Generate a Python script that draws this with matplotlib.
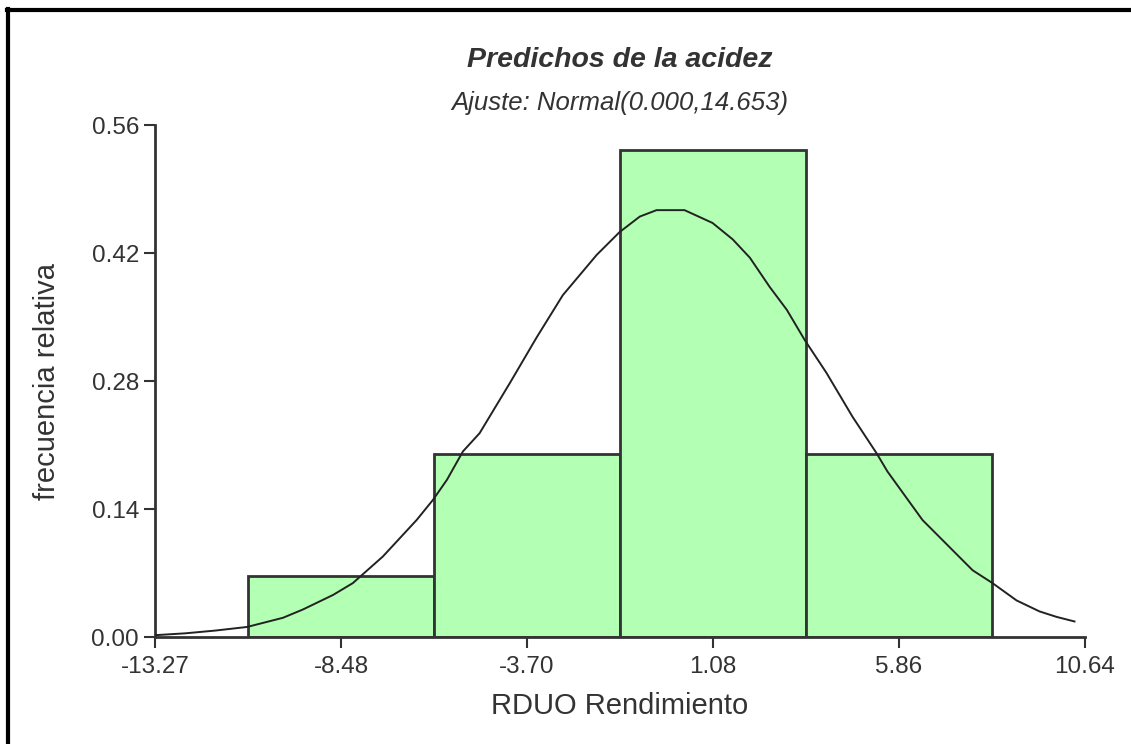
import matplotlib.pyplot as plt
from matplotlib.lines import Line2D

plt.rcParams['font.family'] = ['Liberation Sans', 'DejaVu Sans']

# histograma de residuos
centros = [-8.48, -3.70, 1.08, 5.86]
frec_rel = [0.067, 0.200, 0.533, 0.200]
ancho = 4.78

ticks_x = [-13.27, -8.48, -3.70, 1.08, 5.86, 10.64]
ticks_y = [0.00, 0.14, 0.28, 0.42, 0.56]

# curva de ajuste normal
curva_x = [-13.27, -12.50, -11.73, -10.90, -9.98, -9.47, -8.69, -8.18, -7.41,
           -6.54, -6.12, -5.76, -5.35, -4.92, -4.14, -3.45, -2.78, -1.91, -1.32,
           -0.80, -0.37, 0.35, 1.07, 1.59, 2.03, 2.54, 2.98, 3.44, 4.00, 4.67,
           5.29, 5.57, 6.47, 7.76, 8.27, 8.89, 9.48, 9.92, 10.38]
curva_y = [0.002, 0.004, 0.007, 0.011, 0.021, 0.030, 0.046, 0.059, 0.088,
           0.128, 0.150, 0.172, 0.203, 0.223, 0.278, 0.328, 0.374, 0.418, 0.443,
           0.460, 0.467, 0.467, 0.453, 0.435, 0.415, 0.383, 0.358, 0.325, 0.289, 0.241,
           0.201, 0.181, 0.128, 0.073, 0.059, 0.040, 0.028, 0.022, 0.017]

gris = '#333333'

fig = plt.figure(figsize=(11.31, 7.44), dpi=100)
ax = fig.add_axes([0.137, 0.1438, 0.822, 0.688])

ax.bar(centros, frec_rel, width=ancho, color='#b3ffb3', edgecolor=gris, linewidth=2, zorder=2)
ax.plot(curva_x, curva_y, color='#222222', linewidth=1.4, zorder=3)

ax.set_xlim(-13.27, 10.64)
ax.set_ylim(0, 0.56)
ax.set_xticks(ticks_x)
ax.set_xticklabels(['%.2f' % t for t in ticks_x])
ax.set_yticks(ticks_y)
ax.set_yticklabels(['%.2f' % t for t in ticks_y])
ax.spines['top'].set_visible(False)
ax.spines['right'].set_visible(False)
for s in ['left', 'bottom']:
    ax.spines[s].set_linewidth(2)
    ax.spines[s].set_color(gris)
ax.tick_params(axis='both', colors=gris, labelcolor=gris, labelsize=17.5, width=1.5, length=8)
ax.tick_params(axis='x', pad=6)
ax.margins(0)

ax.set_xlabel('RDUO Rendimiento', fontsize=21, color=gris, labelpad=10)
ax.set_ylabel('frecuencia relativa', fontsize=21, color=gris, labelpad=22)

fig.text(0.548, 0.919, 'Predichos de la acidez', ha='center', va='center',
         fontsize=20.5, fontweight='bold', fontstyle='italic', color=gris)
fig.text(0.548, 0.862, 'Ajuste: Normal(0.000,14.653)', ha='center', va='center',
         fontsize=18.5, fontstyle='italic', color=gris)

# marco
fig.add_artist(Line2D([0.006, 1.0], [0.987, 0.987], transform=fig.transFigure, color='black', linewidth=3))
fig.add_artist(Line2D([0.007, 0.007], [0.0, 0.988], transform=fig.transFigure, color='black', linewidth=3))

fig.savefig('out.png', dpi=100)
